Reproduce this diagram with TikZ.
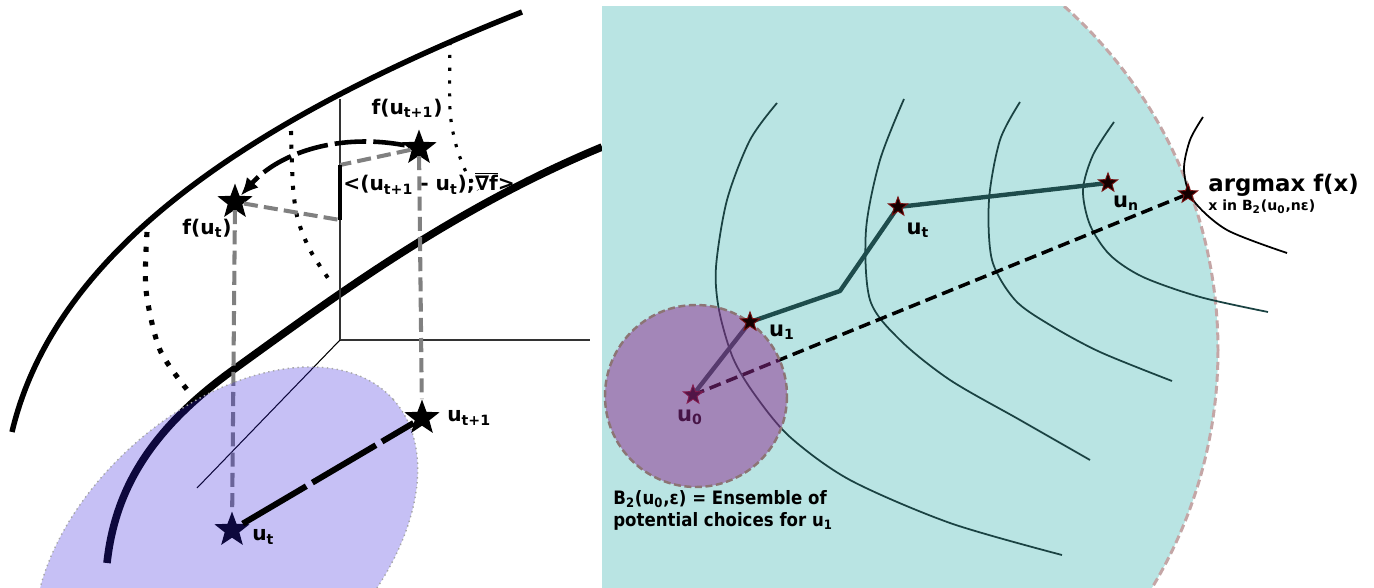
\documentclass[tikz,border=0pt]{standalone}
\usepackage{fontspec}
\setmainfont{DejaVu Sans}
\newfontfamily\condfont[FakeStretch=0.9]{DejaVu Sans}
\usetikzlibrary{arrows.meta,positioning,shapes.geometric}
\definecolor{lav}{RGB}{50,30,220}
\definecolor{aqua}{HTML}{B9E4E3}
\definecolor{rim}{HTML}{C4A6A6}
\definecolor{plum}{RGB}{143,42,143}
\definecolor{discrim}{HTML}{8C7474}
\definecolor{pathcol}{HTML}{1E4C4C}
\definecolor{lvl}{HTML}{1A4242}
\definecolor{starrim}{HTML}{7A1010}
\tikzset{
  lbl/.style={font=\bfseries\fontsize{11.5}{13}\selectfont,inner sep=0pt},
  rlbl/.style={font=\bfseries\fontsize{12}{14}\selectfont,inner sep=0pt},
  bigstar/.style={star,star points=5,star point ratio=2.4,fill=black,inner sep=0pt,minimum size=21pt},
  smstar/.style={star,star points=5,star point ratio=2.4,fill=black!92!red,draw=starrim,line width=0.5pt,inner sep=0pt,minimum size=11.5pt},
  gdash/.style={draw=gray,line width=2.3pt,dash pattern=on 8pt off 3.5pt},
  lvlline/.style={draw=lvl,line width=1pt},
  dotline/.style={line width=#1,dash pattern=on #1 off 5.5pt},
}

\begin{document}
\begin{tikzpicture}[x=0.02cm,y=-0.02cm]
\useasboundingbox (0,0) rectangle (1374,588);

% left: the surface f and its slices
\draw[line width=3.1pt] (12,432) .. controls (55,250) and (250,120) .. (522,12);
\draw[line width=4.3pt] (107,563) .. controls (115,490) and (150,430) .. (233,370)
  .. controls (330,300) and (450,210) .. (602,147);
\coordinate (o) at (340,340);
\draw[line width=0.6pt,black!80] (340,99) -- (o) -- (590,340);
\draw[line width=0.6pt] (o) -- (197,488);
\draw[dotline=2.9pt] plot[smooth] coordinates {(147,232) (146,290) (160,350) (189,392)};
\draw[dotline=2.3pt] plot[smooth] coordinates {(291,131) (293,187) (298,220) (310,250) (328,278)};
\draw[dotline=1.8pt] plot[smooth] coordinates {(450,42) (450,110) (456,145) (466,172) (478,190)};

\node[bigstar] (fu1) at (419,148) {};
\node[bigstar] (fu) at (235,202) {};
\node[bigstar] (ut1) at (422,418) {};
\node[bigstar] (ut) at (232,530) {};

\node[lbl,anchor=west] (inner) at (343,183) {<(u\textsubscript{t+1} - u\textsubscript{t});$\overline{\hbox{∇f}}$>};

\draw[gdash] (fu) -- (ut);
\draw[gdash] (fu1) -- (ut1);
\coordinate (bartop) at (340,165);
\coordinate (barbot) at (340,220);
\draw[gdash] (fu1) -- (bartop);
\draw[gdash] (fu) -- (barbot);
\draw[line width=2.8pt] (bartop) -- (barbot);
\draw[line width=2.6pt,dash pattern=on 18pt off 4pt,-{Latex[length=10pt,width=9pt]}] (fu1) .. controls (340,133) and (280,152) .. (fu);

% domain of u
\fill[lav,fill opacity=0.28] (226,550) ellipse[x radius=225,y radius=140,rotate=42];
\draw[gray!70,line width=0.8pt,dotted] (226,550) ellipse[x radius=225,y radius=140,rotate=42];
\draw[line width=3.4pt,dash pattern=on 42pt off 4pt] (ut) -- (ut1);

\node[lbl] (lfu1) at (407,108) {f(u\textsubscript{t+1})};
\node[lbl] (lfu) at (207,228) {f(u\textsubscript{t})};
\node[lbl,right=8pt of ut1] (lut1) {u\textsubscript{t+1}};
\node[lbl,anchor=west] (lut) at (252,537) {u\textsubscript{t}};

% right: ball of radius n eps
\begin{scope}
\clip (602,7) rectangle (1374,588);
\fill[aqua] (757,350) circle[radius=461];
\draw[rim,line width=1.7pt,dash pattern=on 4.5pt off 2.3pt] (757,350) circle[radius=461];
\end{scope}
\draw[lvlline] plot[smooth] coordinates {(777,103) (750,140) (727,200) (716,267) (719,310) (733,358) (755,395) (790,437) (850,480) (950,523) (1062,555)};
\draw[lvlline] plot[smooth] coordinates {(904,99) (880,160) (866,230) (870,300) (900,340) (950,380) (1020,420) (1090,460)};
\draw[lvlline] plot[smooth] coordinates {(1020,102) (1000,140) (989,200) (992,260) (1015,300) (1050,325) (1100,352) (1172,381)};
\draw[lvlline] plot[smooth] coordinates {(1114,122) (1093,155) (1083,190) (1090,225) (1110,255) (1143,277) (1200,297) (1268,312)};
\draw[line width=1pt] plot[smooth] coordinates {(1203,117) (1190,140) (1184,170) (1193,200) (1227,230) (1287,253)};

\coordinate (p0) at (693,395);
\coordinate (p1) at (750,322);
\coordinate (kink) at (840,291);
\coordinate (pt) at (898,207);
\coordinate (pn) at (1108,183);
\coordinate (pmax) at (1188,194);
\draw[pathcol,line width=2.5pt,line join=round] (p0) -- (p1) -- (kink) -- (pt) -- (pn);
\draw[line width=2pt,dash pattern=on 6.8pt off 3.4pt] (p0) -- (pmax);
\node[smstar] (u0) at (p0) {};
\node[rlbl] (lu0) at (690,417) {u\textsubscript{0}};

\fill[plum,fill opacity=0.5] (696,396) circle[radius=91];
\draw[discrim,line width=1.4pt,dash pattern=on 4pt off 2pt] (696,396) circle[radius=91];

\node[smstar] (u1) at (p1) {};
\node[smstar] (ut2) at (pt) {};
\node[smstar] (un) at (pn) {};
\node[smstar] (amax) at (pmax) {};
\node[rlbl] (lu1) at (782,332) {u\textsubscript{1}};
\node[rlbl] (lut2) at (918,230) {u\textsubscript{t}};
\node[rlbl] (lun) at (1126,203) {u\textsubscript{n}};
\node[font=\bfseries\fontsize{13}{15}\selectfont,inner sep=0pt,anchor=west] (amaxlbl) at (1208,185) {argmax f(x)};
\node[font=\bfseries\fontsize{8}{9}\selectfont,inner sep=0pt,anchor=west] (amaxsub) at (1208,207) {x in B\textsubscript{2}(u\textsubscript{0},nε)};
\node[font=\condfont\bfseries\fontsize{10.5}{12.5}\selectfont,align=left,anchor=north west,inner sep=0pt] (cap) at (613,490) {B\textsubscript{2}(u\textsubscript{0},ε) = Ensemble of\\potential choices for u\textsubscript{1}};
\end{tikzpicture}
\end{document}
